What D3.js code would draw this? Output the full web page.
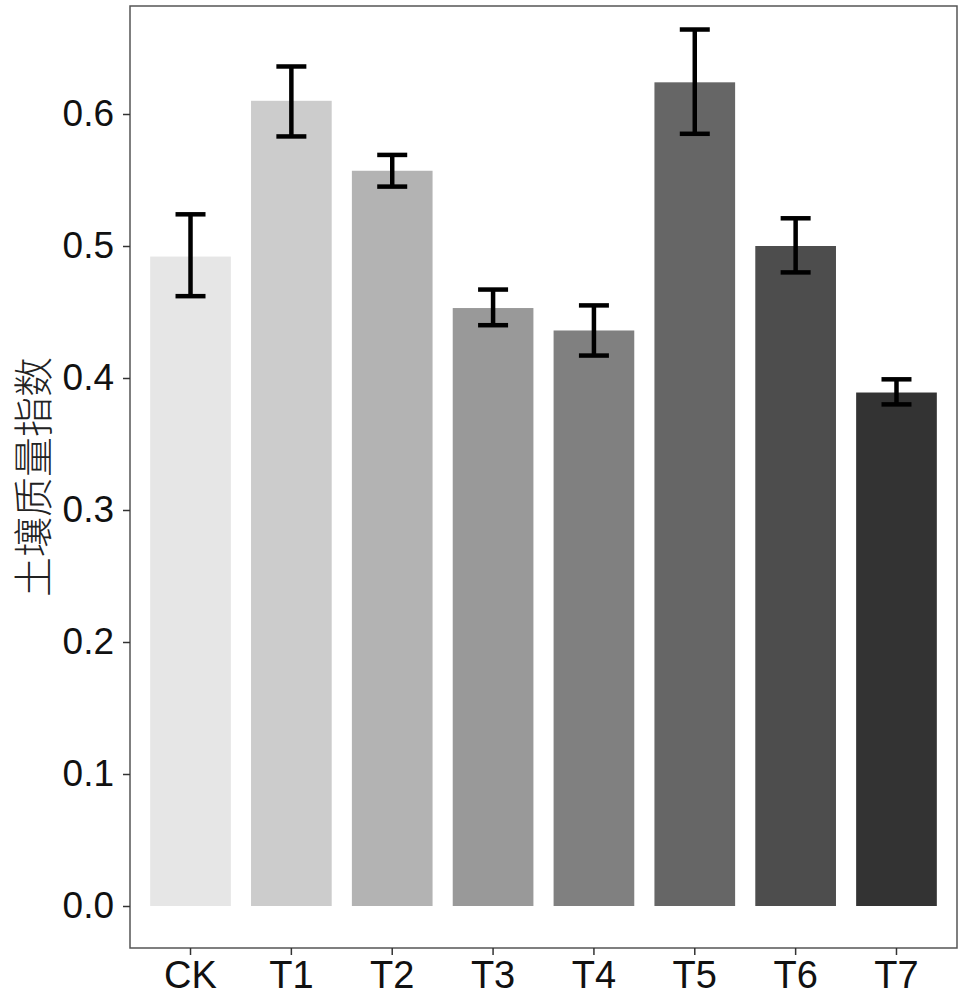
<!DOCTYPE html>
<html><head><meta charset="utf-8">
<script src="https://cdn.jsdelivr.net/npm/d3@7"></script>
<style>body{margin:0;background:#fff}</style>
</head><body>
<script>
const categories = ["CK","T1","T2","T3","T4","T5","T6","T7"];
const values = [0.492, 0.610, 0.557, 0.453, 0.436, 0.624, 0.500, 0.389];
const errLow = [0.462, 0.583, 0.545, 0.440, 0.417, 0.585, 0.480, 0.380];
const errHigh = [0.524, 0.636, 0.569, 0.467, 0.455, 0.664, 0.521, 0.399];
const fills = ["#e6e6e6","#cccccc","#b3b3b3","#999999","#808080","#666666","#4d4d4d","#333333"];
const yTicks = [0, 0.1, 0.2, 0.3, 0.4, 0.5, 0.6];
const yLabel = "土壤质量指数";

const W = 964, H = 1000;
const m = {left:130, right:7, top:6, bottom:52};
const svg = d3.select("body").append("svg").attr("width", W).attr("height", H);
const x = d3.scaleBand().domain(categories).range([m.left, W - m.right]).paddingInner(0.2).paddingOuter(0.2);
const y = d3.scaleLinear().domain([0, 0.6]).range([906, 114]);

const g = svg.append("g");
g.selectAll("rect.bar").data(categories).join("rect")
  .attr("x", d => x(d)).attr("width", x.bandwidth())
  .attr("y", (d,i) => y(values[i])).attr("height", (d,i) => y(0) - y(values[i]))
  .attr("fill", (d,i) => fills[i]);

const capW = 30;
const eb = g.selectAll("g.eb").data(categories).join("g").attr("stroke", "#000").attr("stroke-width", 4.5);
eb.append("line").attr("x1", d => x(d) + x.bandwidth()/2).attr("x2", d => x(d) + x.bandwidth()/2)
  .attr("y1", (d,i) => y(errLow[i])).attr("y2", (d,i) => y(errHigh[i]));
eb.append("line").attr("x1", d => x(d) + x.bandwidth()/2 - capW/2).attr("x2", d => x(d) + x.bandwidth()/2 + capW/2)
  .attr("y1", (d,i) => y(errHigh[i])).attr("y2", (d,i) => y(errHigh[i]));
eb.append("line").attr("x1", d => x(d) + x.bandwidth()/2 - capW/2).attr("x2", d => x(d) + x.bandwidth()/2 + capW/2)
  .attr("y1", (d,i) => y(errLow[i])).attr("y2", (d,i) => y(errLow[i]));

// panel border
svg.append("rect").attr("x", m.left).attr("y", m.top).attr("width", W - m.right - m.left).attr("height", H - m.bottom - m.top)
  .attr("fill", "none").attr("stroke", "#555").attr("stroke-width", 1.5);

const yAxis = svg.append("g").attr("transform", `translate(${m.left},0)`)
  .call(d3.axisLeft(y).tickValues(yTicks).tickFormat(d3.format(".1f")).tickSize(7).tickPadding(9));
yAxis.select(".domain").remove();
yAxis.selectAll("line").attr("stroke", "#333").attr("stroke-width", 1.5);
yAxis.selectAll("text").attr("font-family", "Liberation Sans, Arial, sans-serif").attr("font-size", 37).attr("fill", "#111");

const xAxis = svg.append("g").attr("transform", `translate(0,${H - m.bottom})`)
  .call(d3.axisBottom(x).tickSize(7).tickPadding(6));
xAxis.select(".domain").remove();
xAxis.selectAll("line").attr("stroke", "#333").attr("stroke-width", 1.5);
xAxis.selectAll("text").attr("font-family", "Liberation Sans, Arial, sans-serif").attr("font-size", 38).attr("fill", "#111");

svg.append("text").attr("transform", `translate(31,${(m.top + H - m.bottom)/2}) rotate(-90)`)
  .attr("text-anchor", "middle").attr("dominant-baseline", "central")
  .attr("font-family", "Noto Sans CJK SC").attr("font-weight", 300)
  .attr("font-size", 40).attr("fill", "#222").text(yLabel);
</script>
</body></html>
